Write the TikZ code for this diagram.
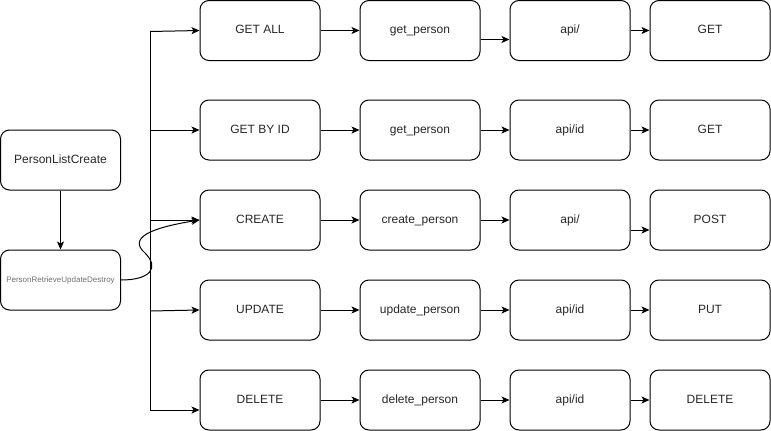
\documentclass[tikz,border=0pt]{standalone}
\usepackage{fontspec}
\setmainfont{Liberation Sans}
\usetikzlibrary{arrows.meta}
\definecolor{subtext}{HTML}{707070}
\tikzset{
  box/.style={draw=black, line width=1pt, rounded corners=9pt, minimum width=120pt, minimum height=60pt, inner sep=0pt, text height=9pt, text depth=2.5pt, font=\fontsize{12pt}{14pt}\selectfont, text=black!85},
  conn/.style={draw=black, line width=1pt, -{Stealth[length=8pt,width=7pt,inset=2pt]}},
  trunk/.style={draw=black, line width=1pt}
}
\begin{document}
\begin{tikzpicture}[x=1pt,y=-1pt]
\useasboundingbox (0,0) rectangle (771,431);
% left column
\node[box] (plc) at (60.5,160) {PersonListCreate};
\node[box, font=\fontsize{8pt}{10pt}\selectfont, text height=6pt, text depth=1.5pt, text=subtext] (prud) at (60.5,280) {PersonRetrieveUpdateDestroy};
% method column
\node[box] (m1) at (260,30.5) {GET ALL};
\node[box] (m2) at (260,130) {GET BY ID};
\node[box] (m3) at (260,220) {CREATE};
\node[box] (m4) at (260,310) {UPDATE};
\node[box] (m5) at (260,400) {DELETE};
% function column
\node[box] (f1) at (420,30.5) {get\_person};
\node[box] (f2) at (420,130) {get\_person};
\node[box] (f3) at (420,220) {create\_person};
\node[box] (f4) at (420,310) {update\_person};
\node[box] (f5) at (420,400) {delete\_person};
% url column
\node[box] (u1) at (570,30.5) {api/};
\node[box] (u2) at (570,130) {api/id};
\node[box] (u3) at (570,220) {api/};
\node[box] (u4) at (570,310) {api/id};
\node[box] (u5) at (570,400) {api/id};
% http column
\node[box] (h1) at (710,30.5) {GET};
\node[box] (h2) at (710,130) {GET};
\node[box] (h3) at (710,220) {POST};
\node[box] (h4) at (710,310) {PUT};
\node[box] (h5) at (710,400) {DELETE};
% trunk
\coordinate (t1) at (150,31.5);
\coordinate (t2) at (150,130);
\coordinate (t3) at (150,220);
\coordinate (t4) at (150,311);
\coordinate (t5) at (150,410);
\draw[trunk] (t1) -- (t5);
\draw[conn] (t1) -- (m1.west);
\draw[conn] (t2) -- (m2.west);
\draw[conn] (t3) -- (m3.west);
\draw[conn] (t4) -- (m4.west);
\draw[conn] (t5) -- ([yshift=-10pt]m5.west);
% left connections
\draw[conn] (plc.south) -- (prud.north);
\draw[conn] (prud.east) .. controls (150,280) and (160,268) .. (145,253)
  .. controls (128,238) and (150,228) .. (m3.west);
% rows
\draw[conn] (m1.east) -- (f1.west);
\draw[conn] ([yshift=-9pt]f1.east) -- ([yshift=-9pt]u1.west);
\draw[conn] (u1.east) -- (h1.west);
\draw[conn] (m2.east) -- (f2.west);
\draw[conn] (f2.east) -- (u2.west);
\draw[conn] (u2.east) -- (h2.west);
\draw[conn] (m3.east) -- (f3.west);
\draw[conn] (f3.east) -- (u3.west);
\draw[conn] ([yshift=-10pt]u3.east) -- ([yshift=-10pt]h3.west);
\draw[conn] (m4.east) -- (f4.west);
\draw[conn] (f4.east) -- (u4.west);
\draw[conn] (u4.east) -- (h4.west);
\draw[conn] (m5.east) -- (f5.west);
\draw[conn] (f5.east) -- (u5.west);
\draw[conn] (u5.east) -- (h5.west);
\end{tikzpicture}
\end{document}
